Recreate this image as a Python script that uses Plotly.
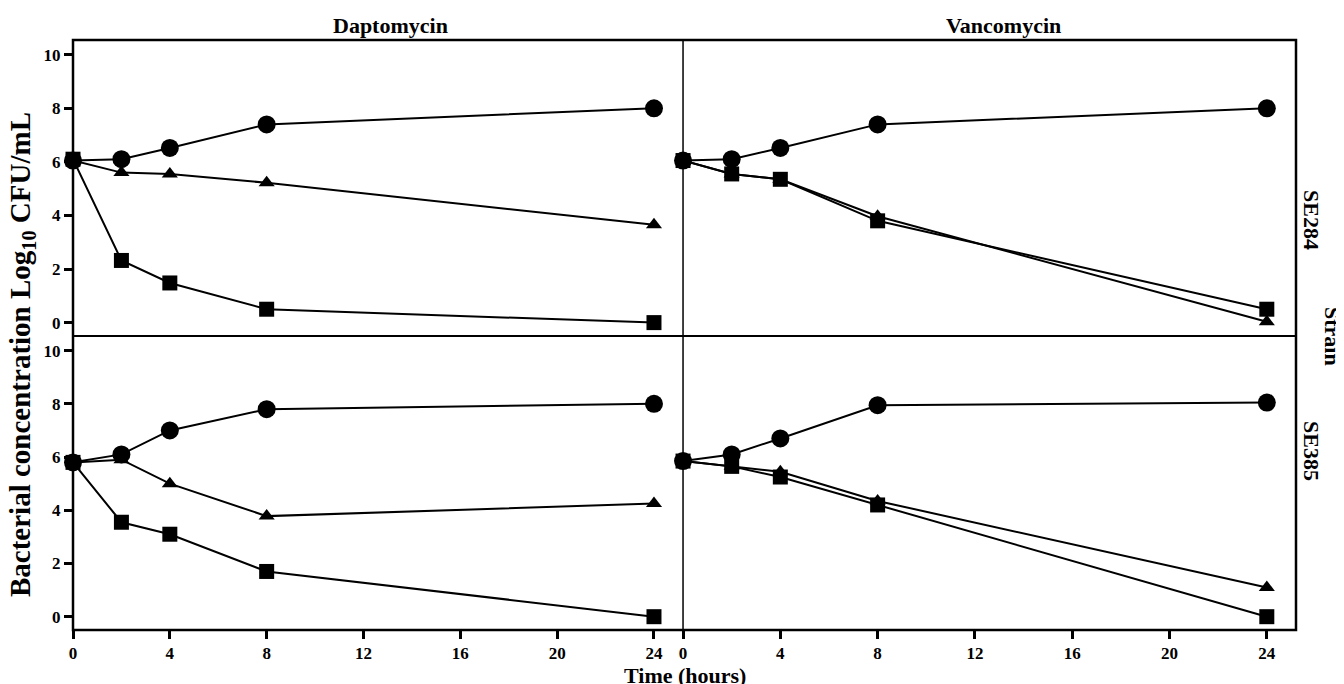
import plotly.graph_objects as go

times = [0, 2, 4, 8, 24]

# SE284
se284_dapto_circle = [6.05, 6.1, 6.52, 7.4, 8.0]
se284_dapto_triangle = [6.05, 5.6, 5.55, 5.22, 3.65]
se284_dapto_square = [6.1, 2.32, 1.48, 0.5, 0.0]
se284_vanco_circle = [6.05, 6.1, 6.52, 7.4, 8.0]
se284_vanco_triangle = [6.05, 5.55, 5.35, 3.97, 0.03]
se284_vanco_square = [6.05, 5.55, 5.35, 3.8, 0.5]

# SE385
se385_dapto_circle = [5.8, 6.1, 7.0, 7.8, 8.0]
se385_dapto_triangle = [5.8, 5.9, 5.0, 3.78, 4.25]
se385_dapto_square = [5.8, 3.55, 3.1, 1.7, 0.0]
se385_vanco_circle = [5.85, 6.1, 6.7, 7.95, 8.05]
se385_vanco_triangle = [5.85, 5.65, 5.45, 4.35, 1.1]
se385_vanco_square = [5.85, 5.65, 5.25, 4.2, 0.0]

x_ticks = [0, 4, 8, 12, 16, 20, 24]
y_ticks = [0, 2, 4, 6, 8, 10]
col_labels = ["Daptomycin", "Vancomycin"]
row_labels = ["SE284", "SE385"]

FONT = "Liberation Serif"

panels = [
    ("x", "y", se284_dapto_circle, se284_dapto_triangle, se284_dapto_square),
    ("x2", "y2", se284_vanco_circle, se284_vanco_triangle, se284_vanco_square),
    ("x3", "y3", se385_dapto_circle, se385_dapto_triangle, se385_dapto_square),
    ("x4", "y4", se385_vanco_circle, se385_vanco_triangle, se385_vanco_square),
]

fig = go.Figure()
for xa, ya, c, t, s in panels:
    for vals, sym, size in [(c, "circle", 18), (t, "triangle-up", 14), (s, "square", 15)]:
        fig.add_trace(go.Scatter(
            x=times, y=vals, xaxis=xa, yaxis=ya, mode="lines+markers",
            line=dict(color="black", width=2),
            marker=dict(symbol=sym, size=size, color="black"),
            showlegend=False, cliponaxis=False,
        ))

xs = 0.4988
ys = 0.4983
xr = [0, 25.2]
yr = [-0.5, 10.55]

tickfont = dict(family=FONT, size=17, color="black")

def xaxis(domain, show):
    return dict(domain=domain, range=xr, tickvals=x_ticks,
                ticktext=[f"<b>{v}</b>" for v in x_ticks],
                showticklabels=show, ticks="outside" if show else "",
                ticklen=8, tickwidth=2.5, tickcolor="black",
                showgrid=False, zeroline=False, showline=False, tickfont=tickfont)

def yaxis(domain, show):
    return dict(domain=domain, range=yr, tickvals=y_ticks,
                ticktext=[f"<b>{v}</b>" for v in y_ticks],
                showticklabels=show, ticks="outside" if show else "",
                ticklen=8, tickwidth=2.5, tickcolor="black",
                showgrid=False, zeroline=False, showline=False, tickfont=tickfont)

fig.update_layout(
    width=1336, height=676,
    margin=dict(l=65, r=48, t=32, b=54),
    plot_bgcolor="white", paper_bgcolor="white",
    xaxis=dict(xaxis([0, xs], False), anchor="y"),
    yaxis=dict(yaxis([ys, 1], True), anchor="x"),
    xaxis2=dict(xaxis([xs, 1], False), anchor="y2"),
    yaxis2=dict(yaxis([ys, 1], False), anchor="x2"),
    xaxis3=dict(xaxis([0, xs], True), anchor="y3"),
    yaxis3=dict(yaxis([0, ys], True), anchor="x3"),
    xaxis4=dict(xaxis([xs, 1], True), anchor="y4"),
    yaxis4=dict(yaxis([0, ys], False), anchor="x4"),
)

shapes = [
    dict(type="rect", xref="paper", yref="paper", x0=0, x1=1, y0=0, y1=1,
         line=dict(color="black", width=2.5)),
    dict(type="line", xref="paper", yref="paper", x0=xs, x1=xs, y0=0, y1=1,
         line=dict(color="black", width=1.5)),
    dict(type="line", xref="paper", yref="paper", x0=0, x1=1, y0=ys, y1=ys,
         line=dict(color="black", width=2)),
]
fig.update_layout(shapes=shapes)

big = dict(family=FONT, size=22, color="black")
ytitle = dict(family=FONT, size=29, color="black")
ann = [
    dict(text=f"<b>{col_labels[0]}</b>", x=xs / 2, y=1, xref="paper", yref="paper",
         xanchor="center", xshift=12, yanchor="bottom", yshift=0, showarrow=False, font=big),
    dict(text=f"<b>{col_labels[1]}</b>", x=(xs + 1) / 2, y=1, xref="paper", yref="paper",
         xanchor="center", xshift=14, yanchor="bottom", yshift=0, showarrow=False, font=big),
    dict(text=f"<b>{row_labels[0]}</b>", x=1, y=(ys + 1) / 2, xref="paper", yref="paper",
         xanchor="center", xshift=16, textangle=90, showarrow=False, font=big),
    dict(text=f"<b>{row_labels[1]}</b>", x=1, y=ys / 2, xref="paper", yref="paper",
         xanchor="center", xshift=16, textangle=90, showarrow=False, font=big),
    dict(text="<b>Strain</b>", x=1, y=ys, xref="paper", yref="paper",
         xanchor="center", xshift=37, textangle=90, showarrow=False, font=big),
    dict(text="<b>Bacterial concentration Log<sub>10</sub> CFU/mL</b>", x=0, y=0.5,
         xref="paper", yref="paper", xanchor="center", xshift=-51, yshift=-20,
         textangle=-90, showarrow=False, font=ytitle),
    dict(text="<b>Time (hours)</b>", x=0.5, y=0, xref="paper", yref="paper",
         xanchor="center", yanchor="top", yshift=-31, showarrow=False, font=big),
]
fig.update_layout(annotations=ann)

fig.write_html("out.html")
